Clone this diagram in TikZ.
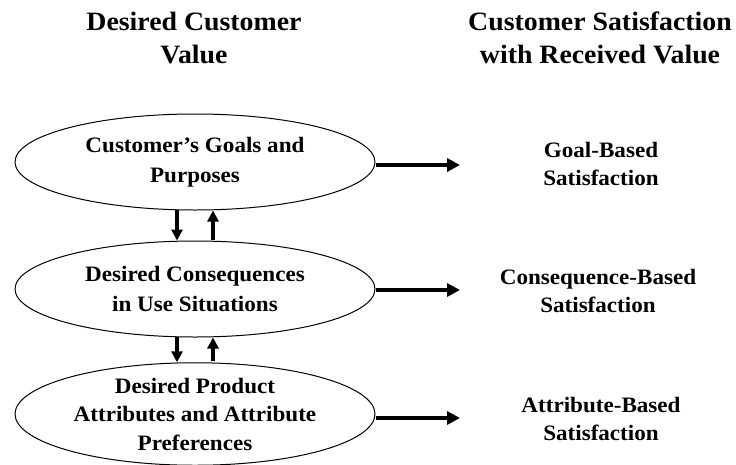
\documentclass[tikz,border=0pt]{standalone}
\usepackage{fontspec}
\setmainfont{Liberation Serif}[FakeStretch=1.05]
\usetikzlibrary{shapes.geometric,arrows.meta,calc}
\begin{document}
\begin{tikzpicture}[x=1pt,y=-1pt,
  oval/.style={ellipse,draw,line width=1pt,minimum width=360pt,minimum height=96pt,inner sep=0pt,align=center,font=\bfseries\fontsize{22}{30}\selectfont},
  ttl/.style={align=center,font=\bfseries\fontsize{26.5}{33}\selectfont},
  lbl/.style={align=center,font=\bfseries\fontsize{22}{28}\selectfont},
  arr/.style={-{Triangle[length=13pt,width=13pt]},line width=3.6pt},
  varr/.style={-{Triangle[length=11pt,width=11pt]},line width=3.2pt}]
\useasboundingbox (0,0) rectangle (736,464);
\node[ttl] (t1) at (194,38) {Desired Customer\\Value};
\node[ttl] (t2) at (600,38) {Customer Satisfaction\\with Received Value};
\node[oval] (e1) at (195,162) {Customer’s Goals and\\Purposes};
\node[oval] (e2) at (195,289) {Desired Consequences\\in Use Situations};
\node[oval,minimum height=98pt,font=\bfseries\fontsize{22}{28.5}\selectfont] (e3) at (195,414) {Desired Product\\Attributes and Attribute\\Preferences};
\node[lbl] (s1) at (601,164) {Goal-Based\\Satisfaction};
\node[lbl] (s2) at (598,291) {Consequence-Based\\Satisfaction};
\node[lbl] (s3) at (601,419) {Attribute-Based\\Satisfaction};
\coordinate (a1) at (460,165);
\coordinate (a2) at (460,290);
\coordinate (a3) at (460,418);
\draw[arr] (e1.east |- a1) -- (a1);
\draw[arr] (e2.east |- a2) -- (a2);
\draw[arr] (e3.east |- a3) -- (a3);
\draw[varr] ($(e1.south)+(-18,-1)$) -- ($(e2.north)+(-18,0)$);
\draw[varr] ($(e2.north)+(18,-1)$) -- ($(e1.south)+(18,0)$);
\draw[varr] ($(e2.south)+(-18,-1)$) -- ($(e3.north)+(-18,0)$);
\draw[varr] ($(e3.north)+(18,-1)$) -- ($(e2.south)+(18,0)$);
\end{tikzpicture}
\end{document}
